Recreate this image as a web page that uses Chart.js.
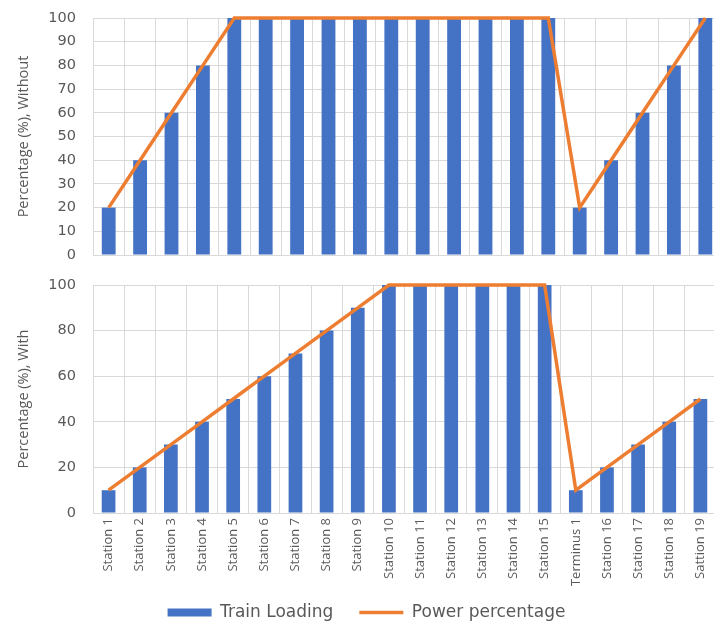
<!DOCTYPE html>
<html>
<head>
<meta charset="utf-8">
<script src="https://cdn.jsdelivr.net/npm/chart.js@4.4.1/dist/chart.umd.min.js"></script>
<style>
  html, body { margin: 0; padding: 0; background: #fff; overflow: hidden; width: 714px; height: 624px; }
  canvas { position: absolute; left: 0; }
  #topChart { top: 0; }
  #bottomChart { top: 262px; }
  #legendChart { top: 578px; }
</style>
</head>
<body>
<canvas id="topChart" width="721" height="262"></canvas>
<canvas id="bottomChart" width="721" height="331"></canvas>
<canvas id="legendChart" width="721" height="100"></canvas>
<script>
// Stops along the line
const stations = [
  'Station 1', 'Station 2', 'Station 3', 'Station 4', 'Station 5',
  'Station 6', 'Station 7', 'Station 8', 'Station 9', 'Station 10',
  'Station 11', 'Station 12', 'Station 13', 'Station 14', 'Station 15',
  'Terminus 1', 'Station 16', 'Station 17', 'Station 18', 'Sattion 19'
];

// Upper panel: without
const loadingWithout = [20, 40, 60, 80, 100, 100, 100, 100, 100, 100, 100, 100, 100, 100, 100, 20, 40, 60, 80, 100];
const powerWithout   = [20, 40, 60, 80, 100, 100, 100, 100, 100, 100, 100, 100, 100, 100, 100, 20, 40, 60, 80, 100];

// Lower panel: with
const loadingWith = [10, 20, 30, 40, 50, 60, 70, 80, 90, 100, 100, 100, 100, 100, 100, 10, 20, 30, 40, 50];
const powerWith   = [10, 20, 30, 40, 50, 60, 70, 80, 90, 100, 100, 100, 100, 100, 100, 10, 20, 30, 40, 50];

// Value axes (min, max, step)
const yTicksWithout = { min: 0, max: 100, step: 10 };
const yTicksWith = { min: 0, max: 100, step: 20 };

const BLUE = '#4472C4';
const ORANGE = '#ED7D31';
const GRID = '#d9d9d9';
const TEXT = '#595959';

function datasets(loading, power) {
  return [
    {
      type: 'bar', label: 'Train Loading', data: loading,
      backgroundColor: BLUE, barPercentage: 0.44, categoryPercentage: 1,
      pointStyle: 'rect', order: 2
    },
    {
      type: 'line', label: 'Power percentage', data: power,
      borderColor: ORANGE, backgroundColor: ORANGE, borderWidth: 3.5,
      pointRadius: 0, pointStyle: 'line', tension: 0, clip: false, order: 1
    }
  ];
}

function yScale(ticks, title) {
  return {
    min: ticks.min, max: ticks.max,
    ticks: { stepSize: ticks.step, color: TEXT, font: { family: 'DejaVu Sans', size: 14.5 }, padding: 17 },
    grid: { color: GRID, drawTicks: false },
    border: { color: GRID },
    title: { display: true, text: title, color: TEXT, font: { family: 'Open Sans', size: 14.5 }, padding: { top: 15, bottom: 0 } },
    // fixed axis width; no extra room reserved above/below for the end labels
    afterFit: s => { s.width = 93; s.paddingTop = 0; s.paddingBottom = 0; }
  };
}

const hiddenScales = { x: { display: false }, y: { display: false } };

Chart.defaults.animation = false;
Chart.defaults.devicePixelRatio = 1;

new Chart(document.getElementById('topChart'), {
  type: 'bar',
  data: { labels: stations, datasets: datasets(loadingWithout, powerWithout) },
  options: {
    responsive: false,
    layout: { padding: { top: 18, right: 0, bottom: 0, left: 0 } },
    plugins: { legend: { display: false }, tooltip: { enabled: false } },
    scales: {
      x: {
        offset: true,
        grid: { offset: true, color: GRID, drawTicks: false },
        border: { color: GRID },
        ticks: { display: false },
        afterFit: s => { s.height = 7; }
      },
      y: yScale(yTicksWithout, 'Percentage (%), Without')
    }
  }
});

new Chart(document.getElementById('bottomChart'), {
  type: 'bar',
  data: { labels: stations, datasets: datasets(loadingWith, powerWith) },
  options: {
    responsive: false,
    layout: { padding: { top: 23, right: 0, bottom: 0, left: 0 } },
    plugins: { legend: { display: false }, tooltip: { enabled: false } },
    scales: {
      x: {
        offset: true,
        grid: { offset: true, color: GRID, drawTicks: false },
        border: { color: GRID },
        ticks: { minRotation: 90, maxRotation: 90, autoSkip: false, color: TEXT, font: { family: 'Open Sans', size: 13 }, padding: 5 },
        afterFit: s => { s.height = 80; }
      },
      y: yScale(yTicksWith, 'Percentage (%), With')
    }
  }
});

// Shared legend for both panels
new Chart(document.getElementById('legendChart'), {
  type: 'bar',
  data: { labels: [], datasets: datasets([], []) },
  options: {
    responsive: false,
    layout: { padding: { left: 12, right: 0, top: 0, bottom: 0 } },
    scales: hiddenScales,
    plugins: {
      tooltip: { enabled: false },
      legend: {
        position: 'top',
        labels: {
          usePointStyle: true, pointStyleWidth: 44, boxHeight: 8,
          color: TEXT, font: { family: 'DejaVu Sans', size: 17 }, padding: 26,
          sort: (a, b) => a.datasetIndex - b.datasetIndex
        }
      }
    }
  }
});
</script>
</body>
</html>
